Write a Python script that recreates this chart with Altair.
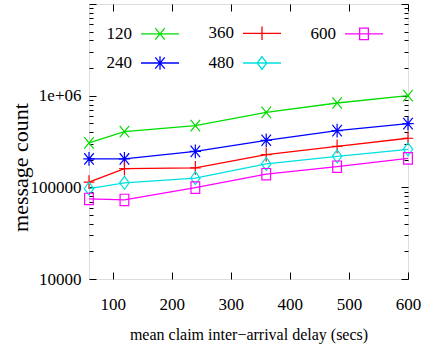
import altair as alt
import pandas as pd

# ---- data ----
delays = [60, 120, 240, 360, 480, 600]
series_names = ["120", "240", "360", "480", "600"]
counts_120 = [305000, 405000, 471000, 658000, 832000, 1000000]
counts_240 = [204000, 204000, 247000, 326000, 415000, 495000]
counts_360 = [114000, 160000, 163000, 227000, 280000, 343000]
counts_480 = [96800, 112000, 126000, 180000, 218000, 260000]
counts_600 = [74700, 72800, 99300, 139000, 168000, 207000]

x_ticks = [100, 200, 300, 400, 500, 600]
y_major = [10000, 100000, 1000000, 10000000]
y_major_labels = ["10000", "100000", "1e+06", ""]
y_minor = [m * 10 ** k for k in (4, 5, 6) for m in range(2, 10)]

series_colors = ["#00dd00", "#0000ff", "#ff0000", "#00e0e0", "#ff00ff"]
marker_paths = [
    "M-0.25,-0.3L0.25,0.3M-0.25,0.3L0.25,-0.3",                                  # x
    "M-0.25,-0.3L0.25,0.3M-0.25,0.3L0.25,-0.3M0,-0.36V0.36M-0.3,0H0.3",          # star
    "M-0.28,0H0.28M0,-0.36V0.36",                                                # plus
    "M0,-0.34L0.25,0L0,0.34L-0.25,0Z",                                           # diamond
    "M-0.23,-0.3H0.23V0.3H-0.23Z",                                               # square
]

rows = []
for name, vals in zip(series_names,
                      [counts_120, counts_240, counts_360, counts_480, counts_600]):
    for d, v in zip(delays, vals):
        rows.append({"series": name, "delay": d, "count": v})
df = pd.DataFrame(rows)

FONT = "Liberation Serif"

x_scale = alt.Scale(domain=[60, 600], nice=False, zero=False)
y_scale = alt.Scale(type="log", domain=[10000, 10000000], nice=False)
color_scale = alt.Scale(domain=series_names, range=series_colors)
marker_keys = ["m" + n for n in series_names]
shape_scale = alt.Scale(domain=marker_keys, range=marker_paths)

label_expr = " : ".join(
    f"datum.value == {v} ? '{l}'" for v, l in zip(y_major, y_major_labels)
) + " : ''"
is_major = "abs(log(datum.value)/LN10 - round(log(datum.value)/LN10)) < 0.001"
y_tick_size = {"expr": f"{is_major} ? -7 : -4"}

# legend sample = line segment + the series marker
legend_symbol_expr = " : ".join(
    f"datum.value == '{n}' ? 'M-1,0H1{p}'" for n, p in zip(series_names, marker_paths)
) + " : 'circle'"

x_axis_bottom = alt.Axis(
    orient="bottom", values=x_ticks, domain=False, grid=False,
    tickSize={"expr": "-7"}, tickColor="black", labelPadding=32,
    labelBaseline="middle", labelFlush=False, labelFont=FONT, labelFontSize=17,
    labelColor="black", title="mean claim inter\u2212arrival delay (secs)",
    titleFont=FONT, titleFontSize=16, titleFontWeight="normal", titleColor="black",
    titleX=159.5, titleY=55, titleBaseline="middle", titleAlign="center",
)
y_axis_left = alt.Axis(
    orient="left", values=y_major + y_minor, domain=False, grid=False,
    tickSize=y_tick_size, tickColor="black", labelPadding=15,
    labelExpr=label_expr, labelOverlap=False, labelFont=FONT, labelFontSize=17,
    labelColor="black", labelAlign="right", labelBaseline="middle",
    title="message count", titleFont=FONT, titleFontSize=22,
    titleFontWeight="normal", titleColor="black", titleAngle=270,
    titleX=-69, titleY=163, titleAlign="center", titleBaseline="middle",
)
x_axis_top = alt.Axis(
    orient="top", values=x_ticks, domain=False, grid=False, labels=False,
    tickSize={"expr": "-7"}, tickColor="black", title=None,
)
y_axis_right = alt.Axis(
    orient="right", values=y_major + y_minor, domain=False, grid=False,
    labels=False, tickSize=y_tick_size, tickColor="black", title=None,
)

legend = alt.Legend(
    orient="none", legendX=17, legendY=9, direction="vertical", columns=3,
    title=None, padding=0, symbolSize=1444, symbolStrokeWidth=1.3,
    symbolOffset=34, labelOffset={"expr": "-48"}, labelAlign="right",
    labelBaseline="middle",
    labelFont=FONT, labelFontSize=17, labelColor="black",
    columnPadding=26, rowPadding={"expr": "-5"},
    symbolType={"expr": legend_symbol_expr},
)

lines = alt.Chart(df).mark_line(strokeWidth=1.3).encode(
    x=alt.X("delay:Q", scale=x_scale, axis=x_axis_bottom),
    y=alt.Y("count:Q", scale=y_scale, axis=y_axis_left),
    color=alt.Color("series:N", scale=color_scale, legend=legend),
    detail="series:N",
)

points = alt.Chart(df).transform_calculate(
    marker="'m' + datum.series"
).mark_point(filled=False, size=1444, strokeWidth=1.2, opacity=1).encode(
    x=alt.X("delay:Q", scale=x_scale, axis=x_axis_top),
    y=alt.Y("count:Q", scale=y_scale, axis=y_axis_right),
    color=alt.Color("series:N", scale=color_scale, legend=legend),
    shape=alt.Shape("marker:N", scale=shape_scale, legend=None),
)

chart = alt.layer(lines, points).resolve_axis(
    x="independent", y="independent"
).properties(
    width=319, height=275,
    autosize=alt.AutoSizeParams(type="none"),
    padding={"left": 89, "top": 4, "right": 25, "bottom": 68},
    background="white",
).configure_view(
    stroke="black", strokeWidth=1.4,
).configure(font=FONT)

chart.save("out.html", embed_options={"renderer": "svg", "actions": False})
